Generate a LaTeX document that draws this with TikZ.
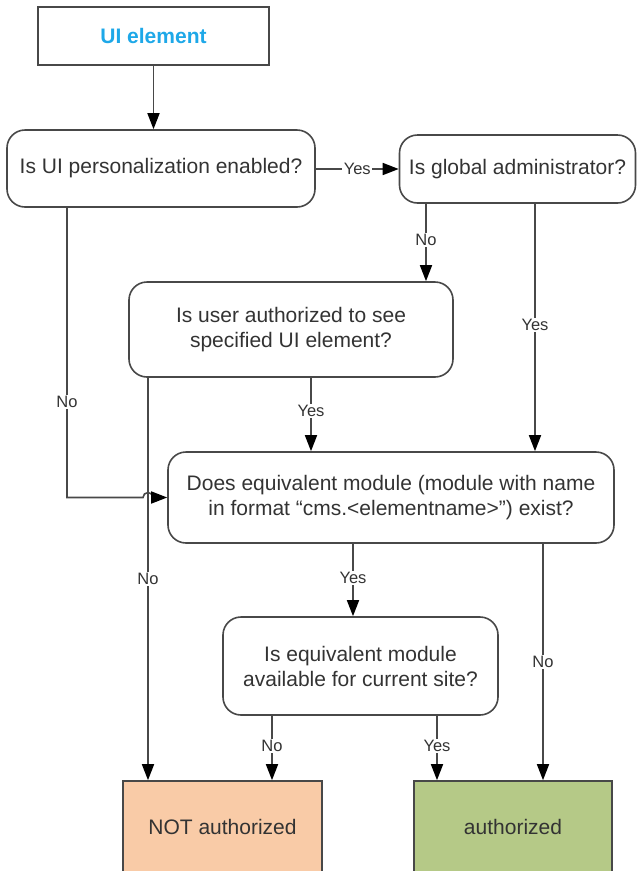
\documentclass[tikz,border=0pt]{standalone}
\usepackage{fontspec}
\setmainfont{Liberation Sans}
\usetikzlibrary{arrows.meta}
\definecolor{uiblue}{RGB}{30,168,232}
\definecolor{peach}{RGB}{249,203,167}
\definecolor{leaf}{RGB}{181,201,135}
\definecolor{edge}{RGB}{72,72,72}
\definecolor{ink}{RGB}{51,51,51}

\begin{document}
\begin{tikzpicture}[x=1pt,y=-1pt,
    box/.style={draw=edge,line width=1.6pt,text=ink,align=center,inner sep=0pt,
                font=\fontsize{21}{25}\selectfont},
    question/.style={box,rounded corners=18pt},
    flow/.style={draw=edge,line width=1.6pt,-{Triangle[length=16pt,width=12pt,black]}},
    lbl/.style={fill=white,text=ink,inner sep=1.5pt,font=\fontsize{16.5}{18}\selectfont}]
        \useasboundingbox (0,0) rectangle (637,871);
        \clip (0,0) rectangle (637,871);

        % Nodes
        \node[box,minimum width=231pt,minimum height=58pt,text=uiblue,font=\fontsize{21}{25}\bfseries] (ui) at (153.5,36) {UI element};
        \node[question,minimum width=308pt,minimum height=77pt] (pers) at (161,168.5) {Is UI personalization enabled?};
        \node[question,minimum width=236pt,minimum height=68pt] (admin) at (517.5,169) {Is global administrator?};
        \node[question,minimum width=324pt,minimum height=95pt] (auth) at (291,329.5) {Is user authorized to see\\specified UI element?};
        \node[question,minimum width=446pt,minimum height=91pt] (equiv) at (391,497.5) {Does equivalent module (module with name\\in format “cms.<elementname>”) exist?};
        \node[question,minimum width=275pt,minimum height=98pt] (site) at (360.5,666) {Is equivalent module\\available for current site?};
        \node[box,fill=peach,minimum width=199pt,minimum height=91pt] (notauth) at (222.5,826.5) {NOT authorized};
        \node[box,fill=leaf,minimum width=198pt,minimum height=91pt] (authd) at (513,826.5) {authorized};

        % Columns of the connectors
        \coordinate (colA) at (67,0);
        \coordinate (colB) at (148,0);
        \coordinate (colC) at (272,0);
        \coordinate (colD) at (311,0);
        \coordinate (colE) at (353,0);
        \coordinate (colF) at (426,0);
        \coordinate (colG) at (437,0);
        \coordinate (colH) at (535,0);
        \coordinate (colI) at (543,0);

        % Connectors
        \draw[flow] (ui.south) -- (ui.south |- pers.north);
        \draw[flow] (pers.east |- admin.west) -- node[lbl]{Yes} (admin.west);
        \draw[flow] (admin.south -| colF) -- node[lbl,pos=.47]{No} (auth.north -| colF);
        \draw[flow] (admin.south -| colH) -- node[lbl,pos=.49]{Yes} (equiv.north -| colH);
        \draw[flow] (pers.south -| colA) -- node[lbl,pos=.67]{No} (colA |- equiv.west)
            -- ([xshift=-5pt]colB |- equiv.west) arc[start angle=180,end angle=360,radius=5]
            -- (equiv.west);
        \draw[flow] (auth.south -| colB) -- node[lbl,pos=.5]{No} (notauth.north -| colB);
        \draw[flow] (auth.south -| colD) -- node[lbl,pos=.45]{Yes} (equiv.north -| colD);
        \draw[flow] (equiv.south -| colE) -- node[lbl,pos=.47]{Yes} (site.north -| colE);
        \draw[flow] (equiv.south -| colI) -- node[lbl,pos=.5]{No} (authd.north -| colI);
        \draw[flow] (site.south -| colC) -- node[lbl,pos=.47]{No} (notauth.north -| colC);
        \draw[flow] (site.south -| colG) -- node[lbl,pos=.47]{Yes} (authd.north -| colG);
\end{tikzpicture}
\end{document}
